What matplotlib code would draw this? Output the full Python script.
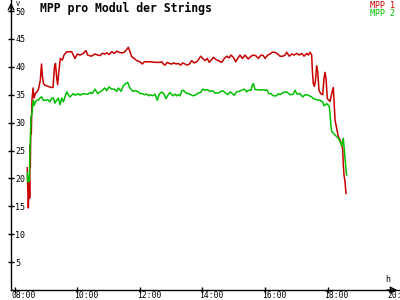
import matplotlib
matplotlib.use('Agg')
import matplotlib.pyplot as plt
import matplotlib.transforms as mtransforms

#############
# Data      #
#############

# minutes after 08:00, MPP 1 in V
red_min = [24.5, 25.3, 26.5, 28.4, 29.1, 29.7, 30.3, 31.6, 32.2, 33.5, 35.5, 37.4,
           40.3, 43.1, 46.0, 49.5, 51.8, 53.7, 55.6, 58.5, 64.2, 70.0, 73.8, 76.7,
           78.6, 80.9, 82.8, 84.7, 87.8, 91.6, 94.9, 100.1, 109.7, 112.7, 116.0,
           120.4, 125.6, 131.9, 137.1, 140.3, 147.6, 154.3, 159.5, 163.9, 168.3,
           173.5, 176.7, 181.2, 186.3, 191.3, 195.9, 200.3, 205.5, 210.5, 215.1,
           218.2, 221.4, 224.7, 229.7, 234.3, 240.6, 245.0, 248.8, 259.8, 269.3,
           278.9, 282.2, 285.2, 288.5, 292.9, 296.7, 301.4, 305.8, 309.6, 314.0,
           318.6, 322.4, 326.8, 331.3, 335.1, 339.7, 344.1, 349.3, 354.3, 356.9,
           360.8, 365.2, 369.6, 373.4, 378.0, 381.1, 386.3, 390.7, 397.2, 402.2,
           406.8, 411.2, 415.0, 419.4, 424.0, 427.9, 432.3, 436.7, 441.9, 445.1,
           448.2, 453.4, 457.8, 462.4, 467.4, 472.5, 477.0, 480.2, 485.4, 489.8,
           494.2, 499.4, 504.6, 508.9, 514.7, 518.5, 521.8, 526.8, 531.4, 535.8,
           541.0, 546.0, 550.6, 555.0, 560.2, 563.2, 566.5, 569.7, 570.9, 572.8,
           574.7, 576.7, 579.3, 581.3, 583.7, 587.0, 590.8, 593.3, 595.3, 597.2,
           599.7, 604.9, 608.1, 611.1, 612.5, 614.4, 616.3, 618.8, 620.7, 624.0,
           627.2, 629.2, 630.3, 631.7, 633.6, 635.5]
red_val = [21.9, 18.5, 14.7, 20.0, 16.5, 26.0, 22.0, 31.0, 28.0, 34.0, 36.2, 34.4,
           35.3, 35.5, 36.0, 37.6, 40.5, 38.2, 37.0, 36.7, 36.5, 36.3, 36.3, 40.0,
           40.6, 38.0, 36.8, 38.9, 41.5, 41.2, 42.1, 42.7, 42.7, 42.1, 41.5,
           42.3, 42.1, 42.4, 42.9, 42.1, 41.9, 42.3, 42.1, 42.0, 42.4,
           42.3, 42.5, 42.2, 42.7, 42.4, 42.8, 42.6, 42.5, 42.6, 43.1,
           43.5, 42.7, 41.8, 41.5, 41.1, 40.9, 40.5, 40.9, 40.9, 40.8,
           40.8, 40.9, 40.5, 40.3, 40.8, 40.6, 40.5, 40.7, 40.5, 40.6,
           40.3, 40.7, 40.5, 40.3, 40.5, 41.1, 40.7, 40.9, 41.5, 41.9,
           41.5, 41.1, 41.5, 40.8, 41.3, 41.7, 41.3, 41.1, 40.8, 41.5,
           41.9, 41.6, 42.1, 41.7, 40.9, 41.5, 42.1, 41.5, 42.1, 41.7,
           41.4, 41.9, 42.1, 42.0, 41.5, 42.1, 42.0, 41.5, 42.1, 42.3,
           42.6, 42.6, 42.3, 41.9, 41.9, 42.1, 42.6, 41.9, 42.3, 42.1,
           42.4, 42.1, 42.4, 41.9, 42.4, 42.1, 42.6, 42.1, 39.4, 37.0,
           36.5, 37.3, 40.2, 39.0, 35.8, 35.2, 35.0, 38.0, 39.0, 37.8,
           34.3, 33.8, 35.2, 36.3, 34.0, 30.5, 29.6, 28.4, 27.5, 26.9,
           26.0, 25.1, 22.4, 20.6, 19.4, 17.3]

# minutes after 08:00, MPP 2 in V
green_min = [24.5, 25.3, 26.8, 28.4, 29.7, 31.6, 33.5, 36.0, 38.0, 39.9, 42.6, 45.6,
             48.9, 52.1, 55.2, 60.4, 64.2, 68.1, 71.3, 74.4, 77.6, 80.9, 84.0,
             87.2, 90.5, 93.5, 100.1, 103.1, 106.4, 112.7, 116.0, 122.3, 125.6,
             131.9, 137.1, 140.9, 144.7, 149.2, 154.3, 159.5, 163.9, 168.3, 173.5,
             176.7, 181.2, 186.3, 191.3, 195.9, 199.0, 204.2, 208.6, 213.2, 217.0,
             220.1, 224.7, 227.7, 231.0, 236.2, 240.6, 245.0, 248.8, 253.4, 257.8,
             259.8, 264.9, 269.3, 273.7, 277.6, 282.2, 286.6, 290.4, 294.8, 298.1,
             303.2, 307.7, 310.9, 314.0, 317.3, 320.5, 323.6, 328.7, 333.2, 337.8,
             342.8, 348.0, 352.4, 357.0, 360.8, 365.2, 369.6, 374.8, 379.9, 384.3,
             390.7, 398.4, 403.5, 408.7, 413.1, 417.5, 421.3, 425.6, 430.2, 435.5,
             440.5, 445.1, 448.2, 453.4, 455.9, 457.8, 461.1, 466.8, 470.6, 475.0,
             480.2, 483.4, 487.8, 491.6, 496.1, 502.6, 505.7, 509.0, 514.7, 521.8,
             528.1, 534.4, 537.7, 541.5, 547.3, 552.5, 556.9, 563.2, 569.7, 572.8,
             579.3, 585.6, 590.8, 593.3, 598.5, 603.5, 604.9, 606.8, 608.1, 611.1,
             616.3, 620.7, 624.0, 627.2, 630.3, 631.7, 633.6, 635.5, 636.9]
green_val = [21.0, 19.4, 20.5, 19.5, 25.0, 30.8, 31.7, 34.0, 33.1, 33.7, 34.0, 34.0,
             34.4, 34.6, 34.0, 34.0, 34.1, 33.7, 34.4, 34.4, 33.5, 34.0, 34.4,
             33.2, 34.4, 33.7, 35.5, 35.0, 34.6, 35.2, 34.9, 35.2, 34.9,
             35.2, 35.1, 35.1, 35.4, 35.2, 36.0, 35.2, 35.5, 35.8, 36.2,
             35.7, 36.4, 36.0, 36.0, 35.6, 36.2, 35.6, 36.6, 37.0, 37.2,
             36.4, 35.8, 35.6, 35.7, 35.6, 35.2, 35.2, 35.0, 35.1, 34.8,
             35.0, 34.8, 35.1, 34.0, 35.1, 35.5, 35.1, 34.3, 35.0, 35.4,
             34.8, 35.1, 34.8, 35.0, 34.8, 35.7, 35.8, 35.3, 35.2, 35.0,
             34.8, 35.0, 35.3, 35.4, 36.0, 35.8, 35.9, 35.6, 35.7, 35.3,
             35.3, 35.7, 35.4, 35.0, 35.5, 35.2, 34.9, 35.5, 35.6, 35.8,
             36.0, 35.5, 35.8, 35.8, 36.7, 37.0, 35.9, 35.9, 35.8, 35.9,
             35.8, 35.9, 35.2, 35.2, 34.8, 34.8, 35.2, 35.0, 35.4, 35.5,
             35.0, 35.1, 35.8, 35.1, 35.2, 34.6, 35.0, 34.9, 34.6, 34.3,
             34.1, 34.0, 33.7, 33.0, 33.4, 32.9, 31.4, 29.3, 28.4, 28.1,
             27.6, 27.2, 26.6, 25.8, 27.2, 25.6, 23.6, 21.5, 20.6]

x_ticks = [8, 10, 12, 14, 16, 18, 20]
x_labels = ['08:00', '10:00', '12:00', '14:00', '16:00', '18:00', '20:00']
y_ticks = [5, 10, 15, 20, 25, 30, 35, 40, 45, 50]

red = '#c80000'
green = '#00c000'
mono = 'DejaVu Sans Mono'

#############
# Plot      #
#############

fig = plt.figure(figsize=(4, 3), dpi=100)
ax = fig.add_axes([11/400, 10/300, 389/400, 290/300])

ax.plot([8 + m/60 for m in red_min], red_val, color=red, lw=1.1)
ax.plot([8 + m/60 for m in green_min], green_val, color=green, lw=1.1)

ax.set_xlim(8 - 3.5/31.3, 8 + 385.5/31.3)
ax.set_ylim(0, 290/5.58)

for s in ['top', 'right']:
    ax.spines[s].set_visible(False)
for s in ['left', 'bottom']:
    ax.spines[s].set_linewidth(1)
    ax.spines[s].set_color('black')

ax.set_xticks(x_ticks)
ax.set_xticklabels(x_labels, family=mono, fontsize=5.8, ha='left')
ax.set_yticks(y_ticks)
ax.set_yticklabels([str(v) for v in y_ticks], family=mono, fontsize=6, ha='left')
ax.tick_params(direction='inout', length=4, width=1, colors='black')
ax.tick_params(axis='y', pad=-5)
ax.tick_params(axis='x', pad=-1)

shift = mtransforms.ScaledTranslation(-3/100, 0, fig.dpi_scale_trans)
for lbl in ax.get_xticklabels():
    lbl.set_transform(lbl.get_transform() + shift)

# axis arrows
ax.annotate('', xy=(0, 1), xytext=(0, 0.95), xycoords='axes fraction',
            arrowprops=dict(arrowstyle='->', lw=1, color='black'), annotation_clip=False)
ax.annotate('', xy=(1, 0), xytext=(0.96, 0), xycoords='axes fraction',
            arrowprops=dict(arrowstyle='->', lw=1, color='black'), annotation_clip=False)

fig.text(16/400, 1 - 0.5/300, 'V', family=mono, fontsize=5, va='top', ha='left')
fig.text(385/400, 1 - 284/300, 'h', family=mono, fontsize=6, va='bottom', ha='left')

fig.text(40/400, 1 - 2/300, 'MPP pro Modul der Strings', family=mono, fontsize=8.3,
         fontweight='bold', va='top', ha='left')
fig.text(395/400, 1 - 1.5/300, 'MPP 1', family=mono, fontsize=6, color=red, va='top', ha='right')
fig.text(395/400, 1 - 9.5/300, 'MPP 2', family=mono, fontsize=6, color=green, va='top', ha='right')

fig.savefig('out.png', dpi=100)
